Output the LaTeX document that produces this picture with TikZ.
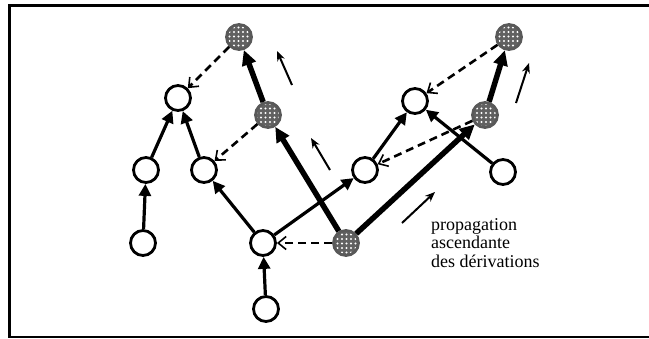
\documentclass[tikz,border=0pt]{standalone}
\usepackage{fontspec}
\setmainfont{Liberation Serif}
\usetikzlibrary{arrows.meta,patterns.meta}

\begin{document}
\begin{tikzpicture}[x=1pt, y=-1pt,
    vertex/.style={circle, draw, line width=2.8pt, fill=white,
      minimum size=25pt, inner sep=0pt},
    derived/.style={circle, draw=black!65, line width=2.8pt,
      minimum size=25pt, inner sep=0pt, preaction={fill=black!62},
      pattern={Dots[distance=4.5pt, radius=1.1pt]}, pattern color=white},
    link/.style={-{Triangle[length=12pt, width=12pt]}, line width=3.2pt},
    prop/.style={-{Triangle[length=15pt, width=14pt]}, line width=5.5pt},
    copy/.style={-{Straight Barb[length=8pt, width=13pt, line width=1.6pt]},
      line width=2.6pt, dash pattern=on 8pt off 5pt},
    hint/.style={-{Stealth[length=10pt, width=8pt]}, line width=2pt}
  ]
    \useasboundingbox (0,0) rectangle (649,338);
    % frame
    \draw[line width=3pt] (649,5) -- (9,5) -- (9,338);
    \draw[line width=1.6pt] (9,337) -- (649,337);

    % white nodes
    \node[vertex] (wa) at (178,98) {};
    \node[vertex] (wb) at (146,170) {};
    \node[vertex] (wc) at (204,170) {};
    \node[vertex] (wd) at (143,243) {};
    \node[vertex] (we) at (263,243) {};
    \node[vertex] (wf) at (266,309) {};
    \node[vertex] (wg) at (365,170) {};
    \node[vertex] (wh) at (415,101) {};
    \node[vertex] (wi) at (503,172) {};

    % derived nodes
    \node[derived] (ha) at (239,37) {};
    \node[derived] (hb) at (268,115) {};
    \node[derived] (hc) at (346,243) {};
    \node[derived] (hd) at (485,115) {};
    \node[derived] (he) at (509,37) {};

    % tree links
    \draw[link] (wd) -- (wb);
    \draw[link] (wb) -- (wa);
    \draw[link] (wc) -- (wa);
    \draw[link] (we) -- (wc);
    \draw[link] (wf) -- (we);
    \draw[link] (we) -- (wg);
    \draw[link] (wg) -- (wh);
    \draw[link] (wi) -- (wh);

    % propagation
    \draw[prop] (hc) -- (hb);
    \draw[prop] (hb) -- (ha);
    \draw[prop] (hc) -- (hd);
    \draw[prop] (hd) -- (he);

    % copies
    \draw[copy] (ha) -- (wa);
    \draw[copy] (hb) -- (wc);
    \draw[copy] (he) -- (wh);
    \draw[copy] (hd) -- (wg);
    \draw[copy] (hc) -- (we);

    % direction hints
    \coordinate (s1) at (292,85);  \coordinate (t1) at (277,51);
    \coordinate (s2) at (330,170); \coordinate (t2) at (311,138);
    \coordinate (s3) at (516,103); \coordinate (t3) at (529,63);
    \coordinate (s4) at (402,223); \coordinate (t4) at (435,192);
    \foreach \i in {1,...,4}
      \draw[hint] (s\i) -- (t\i);

    \node[anchor=base west, align=left, inner sep=0pt,
      font=\fontsize{18}{18.5}\selectfont] (legend) at (431,267)
      {propagation\\ascendante\\des dérivations};
\end{tikzpicture}
\end{document}
